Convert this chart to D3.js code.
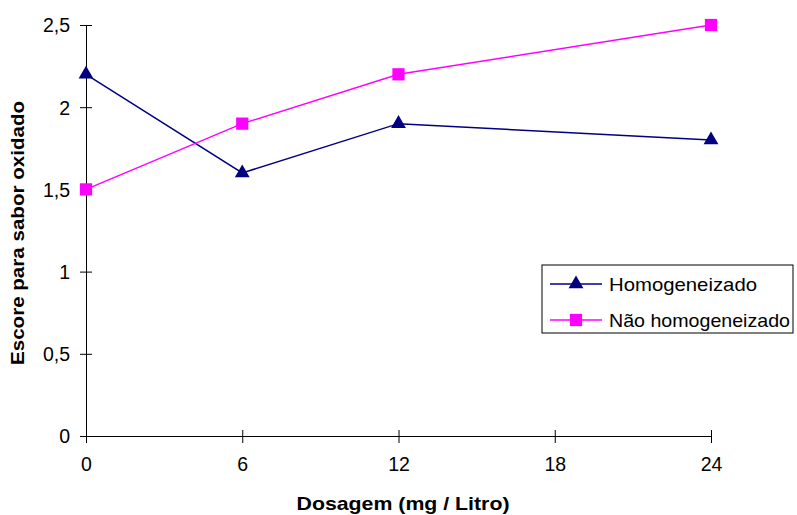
<!DOCTYPE html>
<html lang="pt">
<head>
    <meta charset="utf-8">
    <title>Escore para sabor oxidado</title>
    <script src="https://d3js.org/d3.v7.min.js"></script>
    <style>
        body { margin: 0; background: white; }
        svg { display: block; font-family: "Liberation Sans", Arial, sans-serif; }
    </style>
</head>
<body>
    <div id="chart"></div>
    <script>
        // data
        const dosages = [0, 6, 12, 24];
        const xTicks = [0, 6, 12, 18, 24];
        const yTicks = [0, 0.5, 1, 1.5, 2, 2.5];
        const homogeneizado = [2.2, 1.6, 1.9, 1.8];
        const naoHomogeneizado = [1.5, 1.9, 2.2, 2.5];
        const seriesNames = ['Homogeneizado', 'Não homogeneizado'];

        const svgWidth = 797, svgHeight = 515;
        const plotLeft = 86, plotRight = 711, plotTop = 25, plotBottom = 436;

        const svg = d3.select('#chart')
            .append('svg')
            .attr('width', svgWidth)
            .attr('height', svgHeight);

        const scaleX = d3.scaleLinear().domain([0, 24]).range([plotLeft, plotRight]);
        const scaleY = d3.scaleLinear().domain([0, 2.5]).range([plotBottom, plotTop]);
        const fmt = d => String(d).replace('.', ',');

        // y axis
        const yAxis = svg.append('g')
            .attr('transform', 'translate(' + plotLeft + ',0)')
            .call(d3.axisLeft(scaleY).tickValues(yTicks).tickFormat(fmt).tickSize(6).tickSizeOuter(0).tickPadding(10));
        yAxis.selectAll('.tick line').attr('x2', 6).attr('x1', -6);
        // x axis
        const xAxis = svg.append('g')
            .attr('transform', 'translate(0,' + plotBottom + ')')
            .call(d3.axisBottom(scaleX).tickValues(xTicks).tickSize(7).tickSizeOuter(0).tickPadding(14));
        xAxis.selectAll('.tick line').attr('y1', -6).attr('y2', 7);

        svg.selectAll('.domain').attr('stroke', '#000');
        svg.selectAll('.tick line').attr('stroke', '#000');
        svg.selectAll('.tick text')
            .attr('fill', '#000')
            .style('font-size', '19.5px');
        yAxis.selectAll('.tick text').attr('dy', '0.35em');

        // axis titles
        svg.append('text')
            .attr('x', 403)
            .attr('y', 510)
            .attr('text-anchor', 'middle')
            .attr('textLength', 213)
            .attr('lengthAdjust', 'spacingAndGlyphs')
            .style('font-size', '19px')
            .style('font-weight', 'bold')
            .text('Dosagem (mg / Litro)');
        svg.append('text')
            .attr('transform', 'translate(24,233) rotate(-90)')
            .attr('text-anchor', 'middle')
            .attr('textLength', 264)
            .attr('lengthAdjust', 'spacingAndGlyphs')
            .style('font-size', '19px')
            .style('font-weight', 'bold')
            .text('Escore para sabor oxidado');

        const series = [
            { name: seriesNames[0], values: homogeneizado, color: '#000080', symbol: d3.symbolTriangle, size: 95 },
            { name: seriesNames[1], values: naoHomogeneizado, color: '#FF00FF', symbol: d3.symbolSquare, size: 150 }
        ];

        const line = d3.line()
            .x((d, i) => scaleX(dosages[i]))
            .y(d => scaleY(d));

        series.forEach(s => {
            svg.append('path')
                .datum(s.values)
                .attr('fill', 'none')
                .attr('stroke', s.color)
                .attr('stroke-width', 1.5)
                .attr('d', line);
            svg.selectAll(null)
                .data(s.values)
                .join('path')
                .attr('transform', (d, i) => 'translate(' + scaleX(dosages[i]) + ',' + scaleY(d) + ')')
                .attr('d', d3.symbol().type(s.symbol).size(s.size))
                .attr('fill', s.color);
        });

        // legend
        const legend = svg.append('g').attr('transform', 'translate(542,265)');
        legend.append('rect')
            .attr('width', 251)
            .attr('height', 68)
            .attr('fill', 'white')
            .attr('stroke', '#000')
            .attr('stroke-width', 1);
        const legendWidths = [148, 181];
        series.forEach((s, i) => {
            const y = 19 + i * 36;
            legend.append('line')
                .attr('x1', 8).attr('x2', 60)
                .attr('y1', y).attr('y2', y)
                .attr('stroke', s.color)
                .attr('stroke-width', 1.5);
            legend.append('path')
                .attr('transform', 'translate(34,' + y + ')')
                .attr('d', d3.symbol().type(s.symbol).size(s.size))
                .attr('fill', s.color);
            legend.append('text')
                .attr('x', 67)
                .attr('y', y + 7)
                .attr('textLength', legendWidths[i])
                .attr('lengthAdjust', 'spacingAndGlyphs')
                .style('font-size', '19px')
                .text(s.name);
        });
    </script>
</body>
</html>
